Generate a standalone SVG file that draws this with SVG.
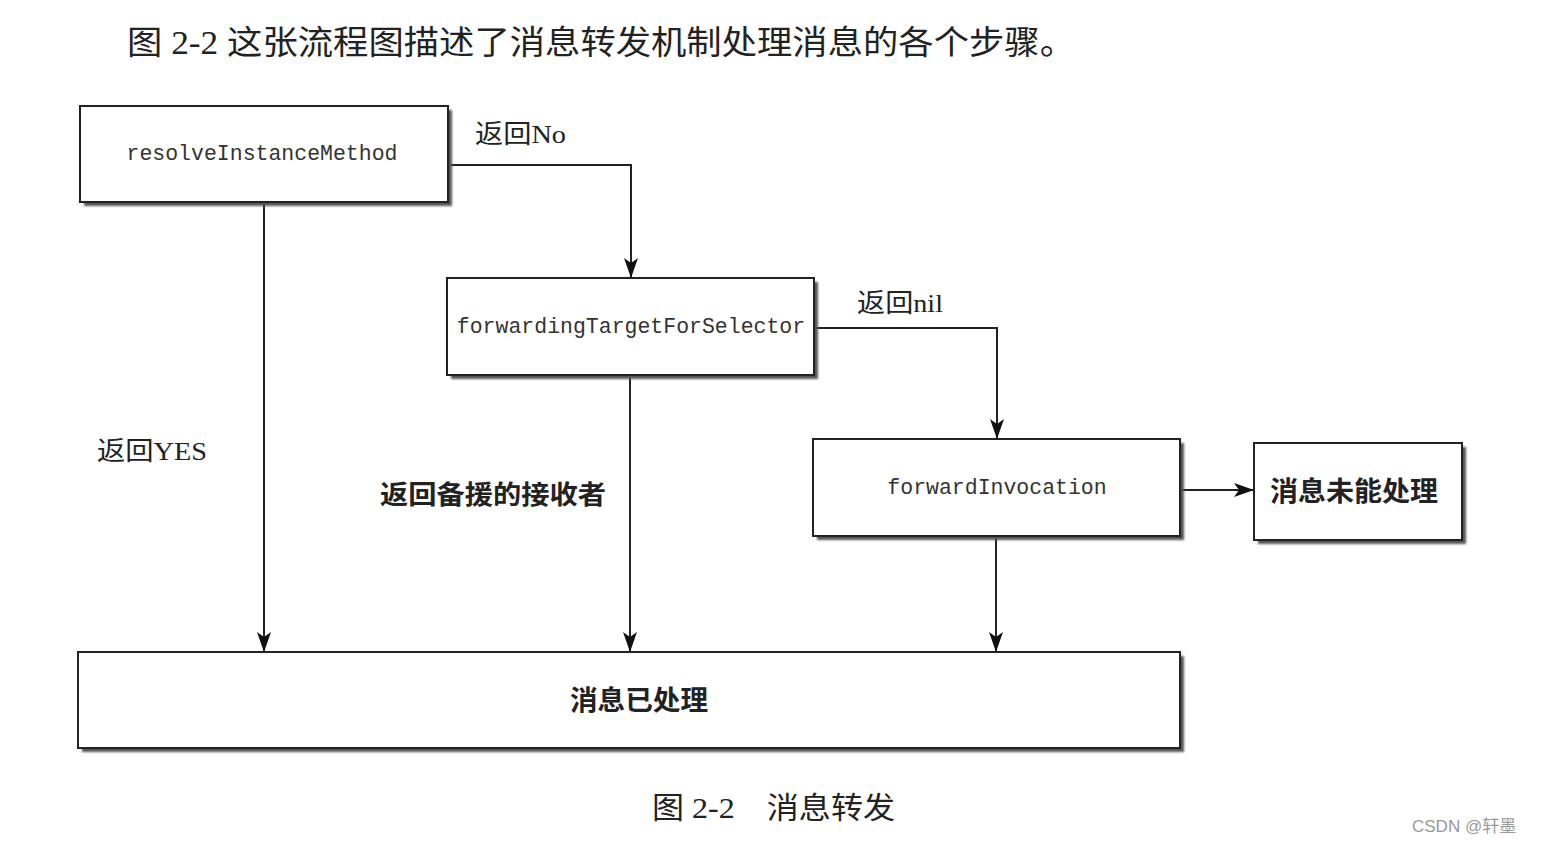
<svg xmlns="http://www.w3.org/2000/svg" width="1544" height="844" viewBox="0 0 1544 844">
<defs>
<marker id="arr" viewBox="0 0 20 14" refX="20" refY="7" markerWidth="20" markerHeight="14" markerUnits="userSpaceOnUse" orient="auto">
<path d="M0,0 L20,7 L0,14 L5,7 Z" fill="#111"/>
</marker>
<filter id="sh" x="-5%" y="-10%" width="115%" height="130%">
<feGaussianBlur stdDeviation="1"/>
</filter>
</defs>
<style>
.box{fill:#fff;stroke:#222;stroke-width:2}
.shadow{fill:#555;filter:url(#sh)}
.mono{font-family:"Liberation Mono","DejaVu Sans Mono",monospace;font-size:21.5px;fill:#333}
.cjk{font-family:"Liberation Serif","Noto Sans CJK SC",serif;fill:#222}
.bold{font-family:"Noto Sans CJK SC",sans-serif;font-weight:bold;fill:#222}
.line{fill:none;stroke:#222;stroke-width:2}
</style>
<rect width="1544" height="844" fill="#fff"/>
<text x="127" y="54" class="cjk" font-size="33" textLength="948" lengthAdjust="spacingAndGlyphs" font-family="Noto Sans CJK SC">图 2-2 这张流程图描述了消息转发机制处理消息的各个步骤。</text>

<g id="connectors">
<polyline class="line" points="448,165 631,165 631,278" marker-end="url(#arr)"/>
<line class="line" x1="264" y1="202" x2="264" y2="652" marker-end="url(#arr)"/>
<line class="line" x1="630" y1="375" x2="630" y2="652" marker-end="url(#arr)"/>
<polyline class="line" points="814,328 997,328 997,439" marker-end="url(#arr)"/>
<line class="line" x1="996" y1="536" x2="996" y2="652" marker-end="url(#arr)"/>
<line class="line" x1="1180" y1="490" x2="1254" y2="490" marker-end="url(#arr)"/>
<text x="475" y="143" class="cjk" font-size="26" textLength="91" lengthAdjust="spacingAndGlyphs">返回No</text>
<text x="97" y="460" class="cjk" font-size="26" textLength="110" lengthAdjust="spacingAndGlyphs">返回YES</text>
<text x="380" y="504" class="bold" font-size="26" textLength="226" lengthAdjust="spacingAndGlyphs">返回备援的接收者</text>
<text x="857" y="312" class="cjk" font-size="26" textLength="86" lengthAdjust="spacingAndGlyphs">返回nil</text>
</g>

<g id="resolveInstanceMethod">
<rect class="shadow" x="84" y="110" width="368" height="96"/>
<rect class="box" x="80" y="106" width="368" height="96"/>
<text x="262" y="160" class="mono" text-anchor="middle">resolveInstanceMethod</text>
</g>
<g id="forwardingTargetForSelector">
<rect class="shadow" x="451" y="282" width="367" height="97"/>
<rect class="box" x="447" y="278" width="367" height="97"/>
<text x="631" y="333" class="mono" text-anchor="middle">forwardingTargetForSelector</text>
</g>
<g id="forwardInvocation">
<rect class="shadow" x="817" y="443" width="367" height="97"/>
<rect class="box" x="813" y="439" width="367" height="97"/>
<text x="997" y="494" class="mono" text-anchor="middle">forwardInvocation</text>
</g>
<g id="unhandled">
<rect class="shadow" x="1258" y="447" width="208" height="97"/>
<rect class="box" x="1254" y="443" width="208" height="97"/>
<text x="1270" y="501" class="bold" font-size="27" textLength="168" lengthAdjust="spacingAndGlyphs">消息未能处理</text>
</g>
<g id="handled">
<rect class="shadow" x="82" y="656" width="1102" height="96"/>
<rect class="box" x="78" y="652" width="1102" height="96"/>
<text x="570" y="710" class="bold" font-size="27" textLength="138" lengthAdjust="spacingAndGlyphs">消息已处理</text>
</g>

<text x="652" y="818" class="cjk" font-size="30" font-family="Noto Sans CJK SC" textLength="243" lengthAdjust="spacingAndGlyphs">图 2-2　消息转发</text>
<text x="1412" y="832" font-family="Liberation Sans,Noto Sans CJK SC,sans-serif" font-size="17" fill="#999">CSDN @轩墨</text>
</svg>
